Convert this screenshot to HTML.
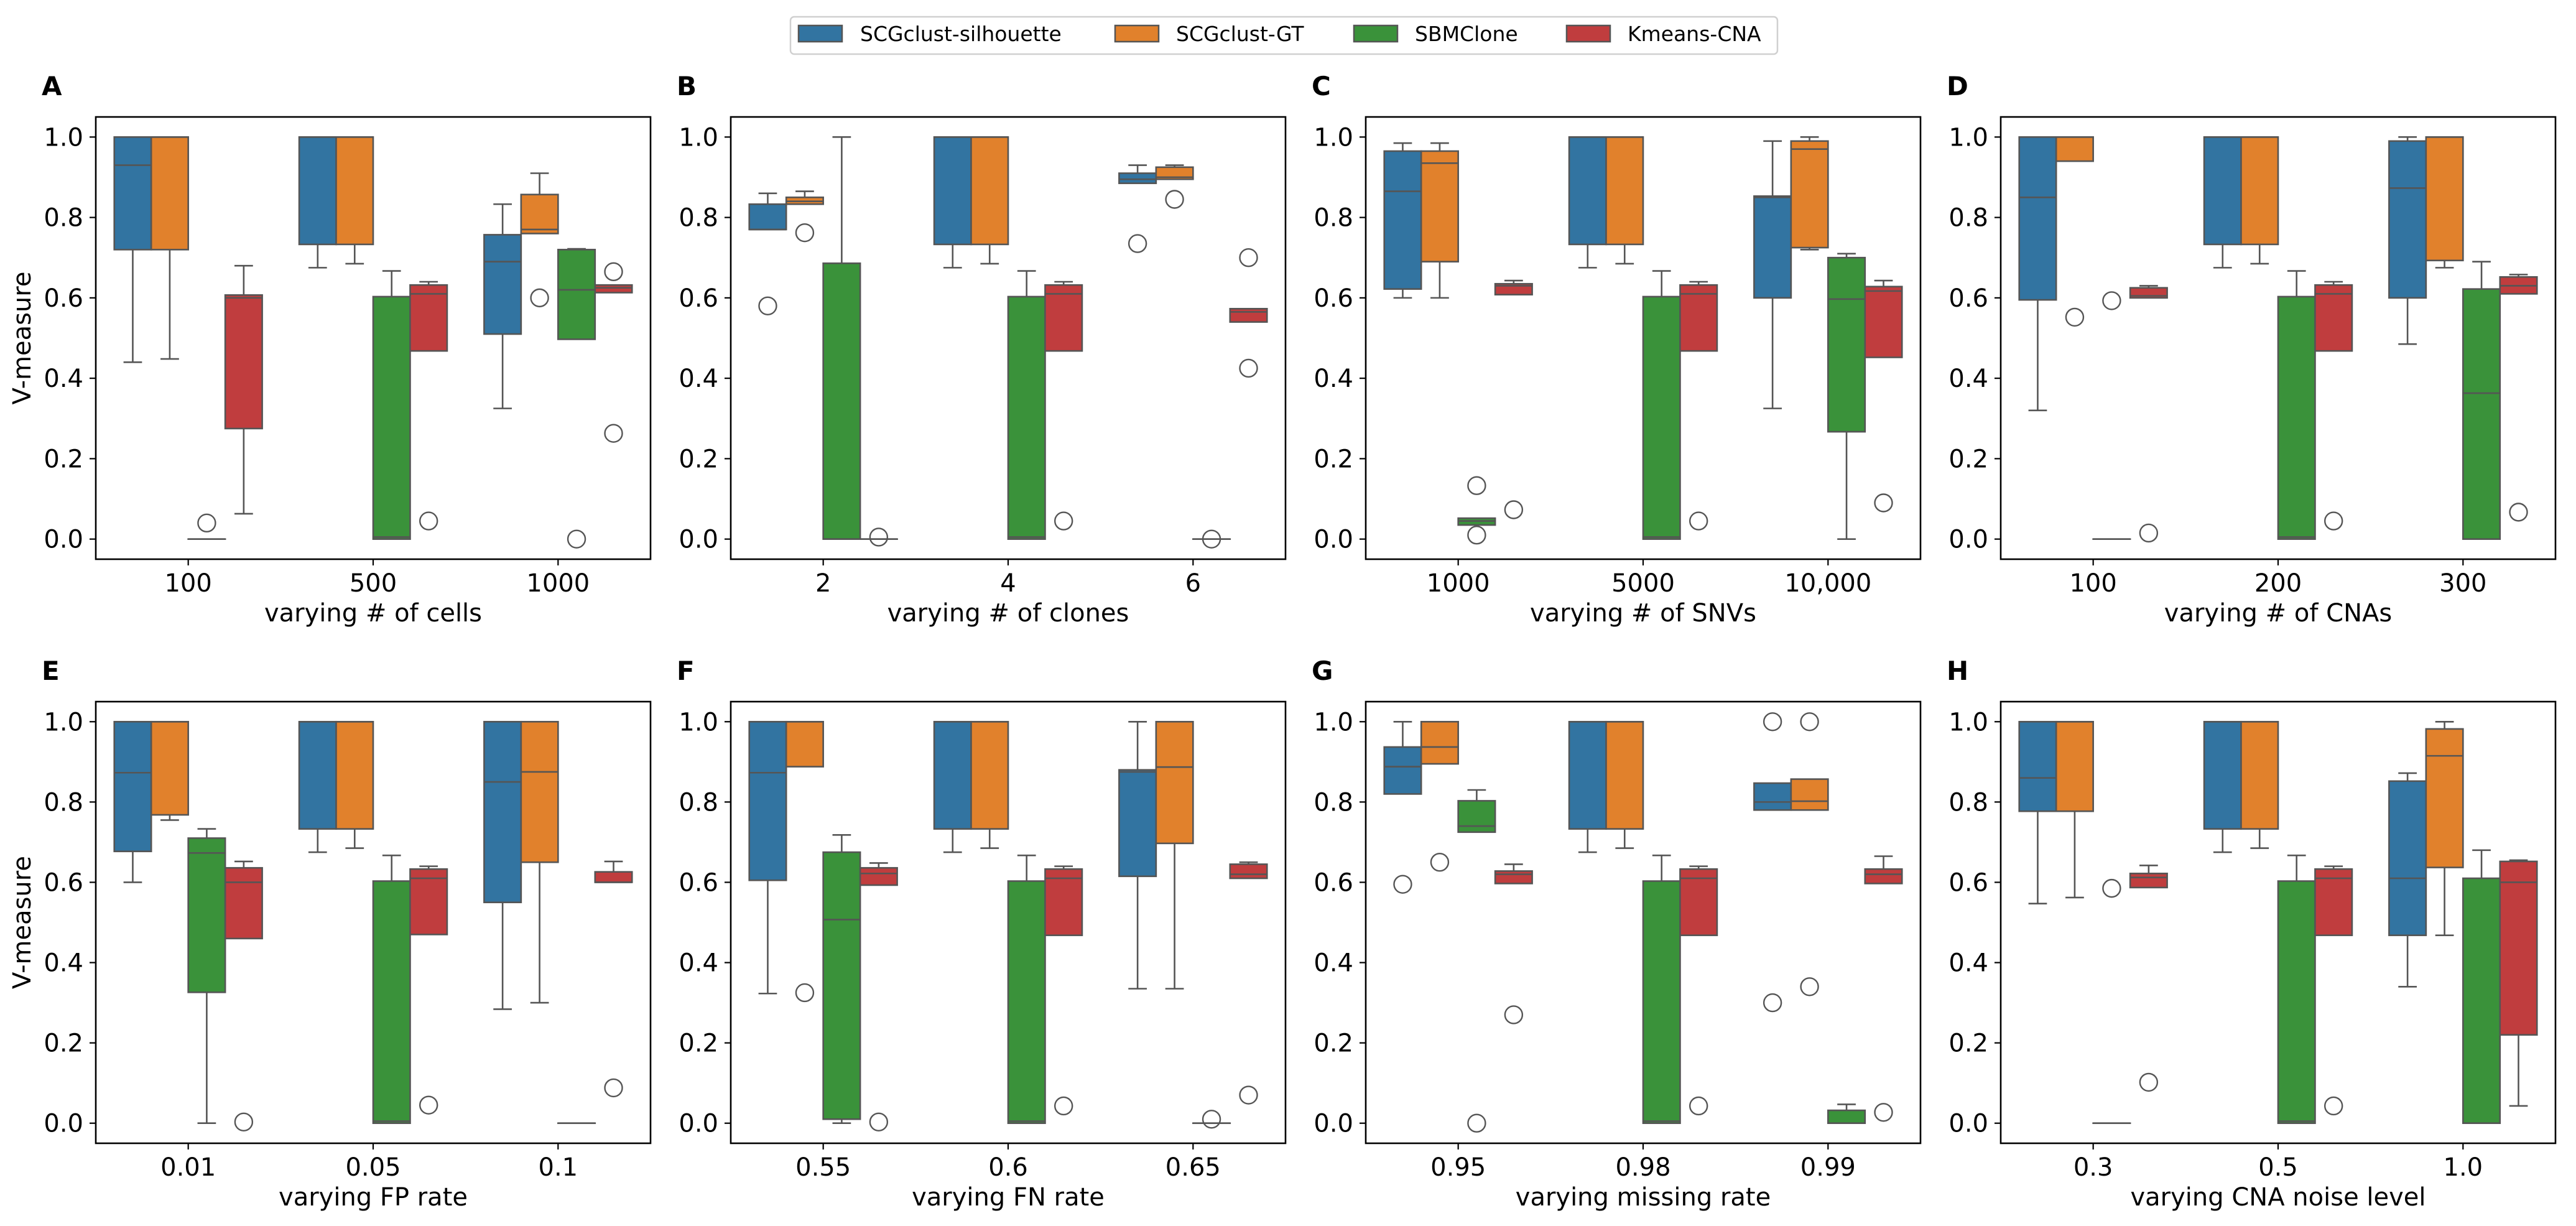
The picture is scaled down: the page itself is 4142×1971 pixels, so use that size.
<!DOCTYPE html>
<html><head><meta charset="utf-8">
<style>
html,body{margin:0;padding:0;background:#fff;}
svg{display:block;font-family:"DejaVu Sans","Liberation Sans",sans-serif;}
</style></head>
<body>
<svg id="fig" width="4142" height="1971" viewBox="0 0 4142 1971" xmlns="http://www.w3.org/2000/svg">
<rect x="0" y="0" width="4142" height="1971" fill="#fff"/>
<g>
<rect x="1271" y="27" width="1587" height="60" rx="6" fill="#fff" stroke="#d0d0d0" stroke-width="2.5"/>
<g><rect x="1284" y="41" width="70" height="26" fill="#3274a1" stroke="#555" stroke-width="2.5"/><text x="1383" y="66" font-size="33">SCGclust-silhouette</text></g>
<g><rect x="1793" y="41" width="70" height="26" fill="#e1812c" stroke="#555" stroke-width="2.5"/><text x="1891" y="66" font-size="33">SCGclust-GT</text></g>
<g><rect x="2177" y="41" width="70" height="26" fill="#3a923a" stroke="#555" stroke-width="2.5"/><text x="2275" y="66" font-size="33">SBMClone</text></g>
<g><rect x="2519" y="41" width="70" height="26" fill="#c03d3e" stroke="#555" stroke-width="2.5"/><text x="2617" y="66" font-size="33">Kmeans-CNA</text></g>
</g>
</svg>
<script>
// ---- data: each stats array = per category [whiskerLow, q1, median, q3, whiskerHigh]
const A_cats=["100","500","1000"];
const A_blue=[[.44,.72,.93,1,1],[.675,.733,1,1,1],[.325,.51,.69,.757,.833]];
const A_orange=[[.448,.72,1,1,1],[.685,.733,1,1,1],[.76,.76,.77,.857,.91]];
const A_green=[[0,0,0,0,0],[0,0,.005,.603,.667],[.497,.497,.62,.72,.722]];
const A_red=[[.063,.275,.60,.607,.68],[.468,.468,.61,.632,.64],[.613,.613,.625,.632,.632]];
const A_out=[[0,2,.04],[1,3,.045],[2,1,.60],[2,2,0],[2,3,.665],[2,3,.263]];

const B_cats=["2","4","6"];
const B_blue=[[.77,.77,.77,.833,.86],[.675,.733,1,1,1],[.885,.885,.895,.91,.93]];
const B_orange=[[.833,.833,.84,.85,.865],[.685,.733,1,1,1],[.895,.895,.90,.925,.93]];
const B_green=[[0,0,0,.686,1],[0,0,.005,.603,.667],[0,0,0,0,0]];
const B_red=[[0,0,0,0,0],[.468,.468,.61,.632,.64],[.54,.54,.565,.573,.573]];
const B_out=[[0,0,.58],[0,1,.762],[0,3,.005],[1,3,.045],[2,0,.735],[2,1,.845],[2,2,0],[2,3,.70],[2,3,.425]];

const C_cats=["1000","5000","10,000"];
const C_blue=[[.60,.622,.865,.965,.985],[.675,.733,1,1,1],[.325,.60,.85,.853,.99]];
const C_orange=[[.60,.69,.935,.965,.985],[.685,.733,1,1,1],[.72,.725,.97,.99,1]];
const C_green=[[.035,.035,.045,.052,.052],[0,0,.005,.603,.667],[0,.267,.597,.70,.71]];
const C_red=[[.608,.608,.63,.635,.643],[.468,.468,.61,.632,.64],[.452,.452,.617,.628,.643]];
const C_out=[[0,2,.133],[0,2,.01],[0,3,.073],[1,3,.045],[2,3,.09]];

const D_cats=["100","200","300"];
const D_blue=[[.32,.595,.85,1,1],[.675,.733,1,1,1],[.485,.60,.873,.99,1]];
const D_orange=[[.94,.94,1,1,1],[.685,.733,1,1,1],[.675,.693,1,1,1]];
const D_green=[[0,0,0,0,0],[0,0,.005,.603,.667],[0,0,.363,.622,.69]];
const D_red=[[.60,.60,.605,.625,.63],[.468,.468,.61,.632,.64],[.61,.61,.63,.652,.658]];
const D_out=[[0,1,.552],[0,2,.593],[0,3,.015],[1,3,.045],[2,3,.067]];

const E_cats=["0.01","0.05","0.1"];
const E_blue=[[.60,.677,.873,1,1],[.675,.733,1,1,1],[.284,.55,.85,1,1]];
const E_orange=[[.755,.768,1,1,1],[.685,.733,1,1,1],[.30,.65,.875,1,1]];
const E_green=[[0,.326,.673,.71,.733],[0,0,.005,.603,.667],[0,0,0,0,0]];
const E_red=[[.46,.46,.60,.636,.652],[.47,.47,.61,.633,.64],[.60,.60,.60,.626,.652]];
const E_out=[[0,3,.003],[1,3,.045],[2,3,.088]];

const F_cats=["0.55","0.6","0.65"];
const F_blue=[[.323,.605,.873,1,1],[.675,.733,1,1,1],[.335,.615,.875,.88,1]];
const F_orange=[[.888,.888,1,1,1],[.685,.733,1,1,1],[.335,.697,.887,1,1]];
const F_green=[[0,.01,.507,.675,.718],[0,0,.005,.603,.667],[0,0,0,0,0]];
const F_red=[[.593,.593,.622,.636,.648],[.468,.468,.61,.633,.64],[.61,.61,.62,.645,.65]];
const F_out=[[0,1,.325],[0,3,.003],[1,3,.043],[2,2,.01],[2,3,.07]];

const G_cats=["0.95","0.98","0.99"];
const G_blue=[[.82,.82,.888,.937,1],[.675,.733,1,1,1],[.78,.78,.80,.847,.847]];
const G_orange=[[.895,.895,.937,1,1],[.685,.733,1,1,1],[.78,.78,.802,.857,.857]];
const G_green=[[.725,.725,.74,.803,.83],[0,0,.005,.603,.667],[0,0,0,.032,.047]];
const G_red=[[.597,.597,.62,.628,.645],[.468,.468,.61,.633,.64],[.597,.597,.62,.633,.665]];
const G_out=[[0,0,.595],[0,1,.65],[0,2,0],[0,3,.27],[1,3,.043],[2,0,1],[2,0,.30],[2,1,1],[2,1,.34],[2,3,.027]];

const H_cats=["0.3","0.5","1.0"];
const H_blue=[[.547,.777,.86,1,1],[.675,.733,1,1,1],[.34,.468,.61,.852,.872]];
const H_orange=[[.562,.777,1,1,1],[.685,.733,1,1,1],[.468,.637,.915,.982,1]];
const H_green=[[0,0,0,0,0],[0,0,.005,.603,.667],[0,0,0,.61,.68]];
const H_red=[[.587,.587,.612,.622,.642],[.468,.468,.61,.633,.64],[.043,.22,.60,.652,.655]];
const H_out=[[0,2,.585],[0,3,.102],[1,3,.043]];

const yTicks=[0,0.2,0.4,0.6,0.8,1.0];
const yTickLabels=["0.0","0.2","0.4","0.6","0.8","1.0"];

const NS="http://www.w3.org/2000/svg";
const svg=document.getElementById('fig');
const COLORS=["#3274a1","#e1812c","#3a923a","#c03d3e"];
const HUE_NAMES=["scgclust-silhouette","scgclust-gt","sbmclone","kmeans-cna"];
const LINE="#555";
function mk(tag,attrs,parent){const e=document.createElementNS(NS,tag);for(const k in attrs)e.setAttribute(k,attrs[k]);(parent||svg).appendChild(e);return e;}

const panels=[
 {id:"A",cats:A_cats,s:[A_blue,A_orange,A_green,A_red],out:A_out,xl:"varying # of cells",left:154,top:188,bottom:899,ylab:true},
 {id:"B",cats:B_cats,s:[B_blue,B_orange,B_green,B_red],out:B_out,xl:"varying # of clones",left:1175,top:188,bottom:899},
 {id:"C",cats:C_cats,s:[C_blue,C_orange,C_green,C_red],out:C_out,xl:"varying # of SNVs",left:2196,top:188,bottom:899},
 {id:"D",cats:D_cats,s:[D_blue,D_orange,D_green,D_red],out:D_out,xl:"varying # of CNAs",left:3217,top:188,bottom:899},
 {id:"E",cats:E_cats,s:[E_blue,E_orange,E_green,E_red],out:E_out,xl:"varying FP rate",left:154,top:1128,bottom:1838,ylab:true},
 {id:"F",cats:F_cats,s:[F_blue,F_orange,F_green,F_red],out:F_out,xl:"varying FN rate",left:1175,top:1128,bottom:1838},
 {id:"G",cats:G_cats,s:[G_blue,G_orange,G_green,G_red],out:G_out,xl:"varying missing rate",left:2196,top:1128,bottom:1838},
 {id:"H",cats:H_cats,s:[H_blue,H_orange,H_green,H_red],out:H_out,xl:"varying CNA noise level",left:3217,top:1128,bottom:1838}
];
const W=892;
panels.forEach(p=>{
 const g=mk('g',{});
 
 
 const yMin=-0.05,yMax=1.05;
 const Y=v=>p.bottom-(v-yMin)/(yMax-yMin)*(p.bottom-p.top);
 const step=W/p.cats.length;
 const X=i=>p.left+(i+0.5)*step;
 const bw=step*0.8/4;
 const hx=(i,h)=>X(i)+(h-1.5)*bw;
 // letter
 const lt=mk('text',{x:p.left-87,y:p.top-35,'font-size':42,'font-weight':'bold'},g);lt.textContent=p.id;
 
 
 // boxes
 p.s.forEach((arr,h)=>{
  arr.forEach((st,i)=>{
   const [lo,q1,md,q3,hi]=st;const cx=hx(i,h);
   const bg=mk('g',{},g);
   
   
   mk('line',{x1:cx,x2:cx,y1:Y(q3),y2:Y(hi),stroke:LINE,'stroke-width':2.6},bg);
   mk('line',{x1:cx,x2:cx,y1:Y(q1),y2:Y(lo),stroke:LINE,'stroke-width':2.6},bg);
   if(hi>q3) mk('line',{x1:cx-bw/4,x2:cx+bw/4,y1:Y(hi),y2:Y(hi),stroke:LINE,'stroke-width':2.6},bg);
   if(lo<q1) mk('line',{x1:cx-bw/4,x2:cx+bw/4,y1:Y(lo),y2:Y(lo),stroke:LINE,'stroke-width':2.6},bg);
   mk('rect',{x:cx-bw/2,y:Y(q3),width:bw,height:Math.max(0.01,Y(q1)-Y(q3)),fill:COLORS[h],stroke:LINE,'stroke-width':2.6},bg);
   mk('line',{x1:cx-bw/2,x2:cx+bw/2,y1:Y(md),y2:Y(md),stroke:LINE,'stroke-width':2.6},bg);
  });
 });
 p.out.forEach(o=>{
  const c=mk('circle',{cx:hx(o[0],o[1]),cy:Y(o[2]),r:14,fill:'none',stroke:LINE,'stroke-width':2.4},g);
  
  
 });
 // frame
 const fr=mk('rect',{x:p.left,y:p.top,width:W,height:p.bottom-p.top,fill:'none',stroke:'#000','stroke-width':2.6},g);
 
 
 // y ticks
 yTicks.forEach((v,k)=>{
  mk('line',{x1:p.left-10,x2:p.left,y1:Y(v),y2:Y(v),stroke:'#000','stroke-width':2.2},g);
  const t=mk('text',{x:p.left-20,y:Y(v)+14,'font-size':40,'text-anchor':'end'},g);t.textContent=yTickLabels[k];
  
  
 });
 // x ticks
 p.cats.forEach((c,i)=>{
  mk('line',{x1:X(i),x2:X(i),y1:p.bottom,y2:p.bottom+10,stroke:'#000','stroke-width':2.2},g);
  const t=mk('text',{x:X(i),y:p.bottom+52,'font-size':40,'text-anchor':'middle'},g);t.textContent=c;
  
  
 });
 const xl=mk('text',{x:p.left+W/2,y:p.bottom+100,'font-size':40,'text-anchor':'middle'},g);xl.textContent=p.xl;
 
 
 if(p.ylab){
  const cy=(p.top+p.bottom)/2;
  const yl=mk('text',{x:49,y:cy,'font-size':40,'text-anchor':'middle',transform:'rotate(-90 49 '+cy+')'},g);yl.textContent="V-measure";
  
  
 }
});
</script>
</body></html>
